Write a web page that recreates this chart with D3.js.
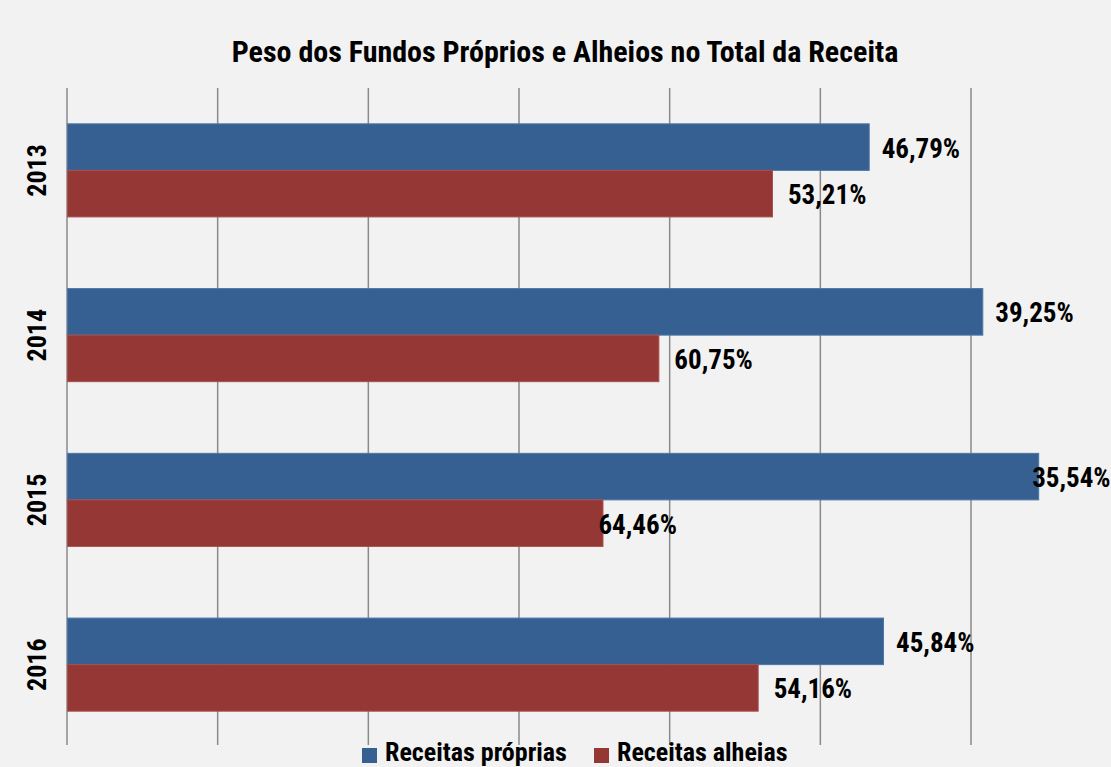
<!DOCTYPE html>
<meta charset="utf-8">
<style>
body { margin: 0; background: #f2f2f2; }
svg { display: block; }
text { font-family: "Liberation Sans Narrow", "Arial Narrow", "Roboto Condensed", sans-serif; font-weight: bold; fill: #000; }
.grid line { stroke: #8a8a8a; stroke-width: 1.5px; }
</style>
<body>
<script src="https://d3js.org/d3.v7.min.js"></script>
<script>

// data
var years = ["2013", "2014", "2015", "2016"];
var proprias = [46.79, 39.25, 35.54, 45.84];
var alheias = [53.21, 60.75, 64.46, 54.16];
var gridTicks = [0, 10, 20, 30, 40, 50, 60];
var seriesNames = ["Receitas próprias", "Receitas alheias"];

var W = 1111, H = 767;
var colors = ["#366092", "#953735"];
var strokes = ["#4d76a8", "#a84f4d"];

var svg = d3.select("body").append("svg")
    .attr("width", W)
    .attr("height", H);

svg.append("rect").attr("width", W).attr("height", H).attr("fill", "#f2f2f2");

var x = d3.scaleLinear().domain([0, 60]).range([67, 971]);
var y = d3.scaleBand().domain(years).range([88, 747])
    .paddingInner(0.435).paddingOuter(0.2175);

// gridlines
svg.append("g").attr("class", "grid")
  .selectAll("line")
  .data(gridTicks)
  .enter().append("line")
    .attr("x1", d => x(d)).attr("x2", d => x(d))
    .attr("y1", 88).attr("y2", 745);

// in the original chart each bar is as long as the other series' share
var rows = years.map((yr, i) => ({
  year: yr,
  bars: [
    {s: 0, label: proprias[i], len: alheias[i]},
    {s: 1, label: alheias[i], len: proprias[i]}
  ]
}));

var half = y.bandwidth() / 2;

var g = svg.selectAll(".yr")
  .data(rows)
  .enter().append("g")
    .attr("class", "yr")
    .attr("transform", d => "translate(0," + y(d.year) + ")");

g.selectAll("rect")
  .data(d => d.bars)
  .enter().append("rect")
    .attr("x", x(0) + 0.5)
    .attr("y", d => d.s * half)
    .attr("width", d => x(d.len) - x(0))
    .attr("height", half)
    .attr("fill", d => colors[d.s])
    .attr("stroke", d => strokes[d.s])
    .attr("stroke-width", 1);

var fmt = v => v.toFixed(2).replace(".", ",") + "%";

g.each(function(r) {
  var crowded = r.year === "2015"; // labels pushed back onto the bar end
  d3.select(this).selectAll(".lbl")
    .data(r.bars)
    .enter().append("text")
      .attr("class", "lbl")
      .attr("x", d => x(d.len) + (crowded ? (d.s ? -4 : -6) : (d.s ? 16 : 13)))
      .attr("y", d => d.s * half + half / 2 + 10.5)
      .style("font-size", "27px")
      .text(d => fmt(d.label));
});

// year labels
svg.selectAll(".ylab")
  .data(years)
  .enter().append("text")
    .attr("class", "ylab")
    .attr("text-anchor", "middle")
    .attr("transform", d => "translate(46," + (y(d) + half) + ")rotate(-90)")
    .style("font-size", "26px")
    .text(d => d);

// title
svg.append("text")
    .attr("x", 565).attr("y", 62)
    .attr("text-anchor", "middle")
    .style("font-size", "30px")
    .text("Peso dos Fundos Próprios e Alheios no Total da Receita");

// legend
var leg = svg.append("g").attr("transform", "translate(362,748)");
var legX = [0, 232];
seriesNames.forEach((n, i) => {
  leg.append("rect").attr("x", legX[i]).attr("y", 0)
    .attr("width", 15).attr("height", 15).attr("fill", colors[i]);
  leg.append("text").attr("x", legX[i] + 23).attr("y", 13)
    .style("font-size", "26px")
    .text(n);
});

</script>
</body>
